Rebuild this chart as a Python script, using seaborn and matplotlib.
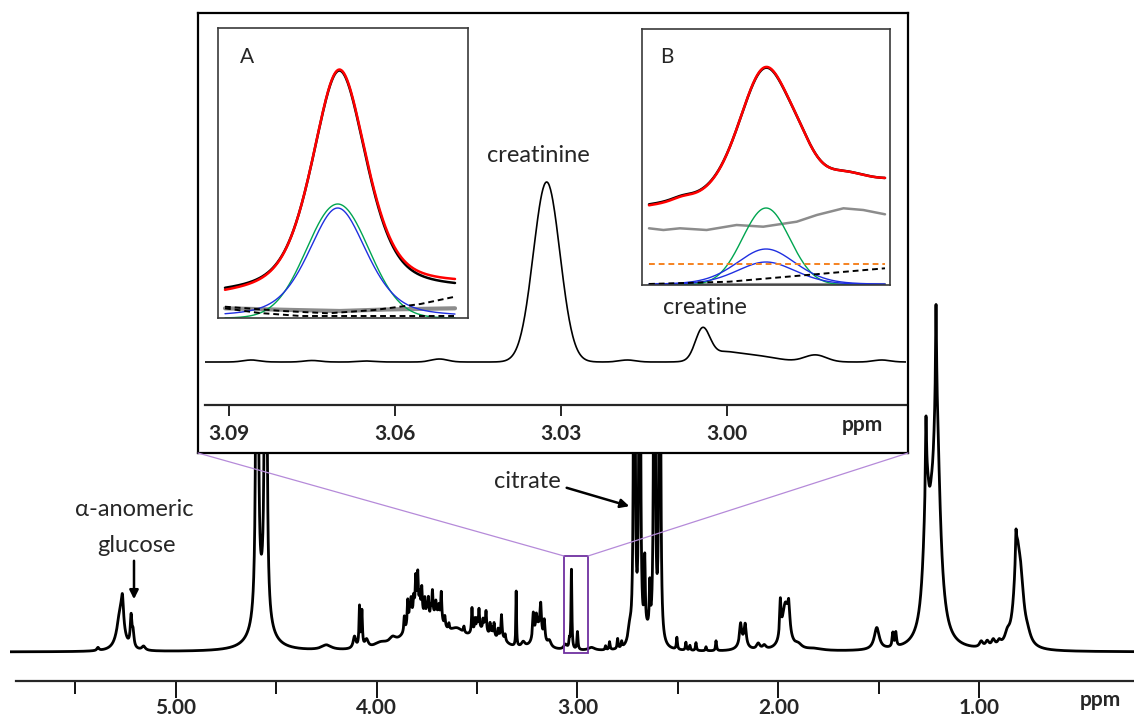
import numpy as np
import matplotlib
matplotlib.use("Agg")
import matplotlib.pyplot as plt
import seaborn as sns
from matplotlib.patches import Rectangle
from matplotlib.lines import Line2D

sns.set_style("ticks")
plt.rcParams['font.family'] = ['Lato', 'DejaVu Sans']

W, H = 1134, 718

# ---------------- main 1H NMR spectrum: peak table ----------------
# (chemical shift ppm, height above baseline, Lorentzian half-width ppm)
main_ppm = [5.387, 5.275, 5.265, 5.222, 5.212, 5.16,
            4.595, 4.552, 4.575, 4.25, 4.11, 4.085, 4.073, 4.05, 3.98, 3.92,
            3.80, 3.70, 3.60, 3.48, 3.38,
            3.862, 3.845, 3.835, 3.828, 3.815, 3.805, 3.795, 3.785, 3.775, 3.76, 3.75, 3.742, 3.73,
            3.722, 3.705, 3.69, 3.678, 3.66, 3.64,
            3.565, 3.525, 3.51, 3.5, 3.49, 3.47, 3.462, 3.455, 3.435, 3.425, 3.415, 3.395, 3.378, 3.36,
            3.305, 3.27,
            3.195, 3.22, 3.205, 3.183, 3.165, 3.14,
            3.03, 3.0, 3.04, 3.06,
            2.93, 2.86, 2.84, 2.80, 2.78, 2.74,
            2.717, 2.69, 2.665, 2.64, 2.617, 2.59, 2.655,
            2.505, 2.46, 2.44, 2.41, 2.36, 2.31,
            2.188, 2.165, 2.178, 2.10, 2.07,
            1.99, 1.965, 1.948, 1.90, 1.82,
            1.51, 1.43, 1.415,
            1.262, 1.265, 1.213, 1.215, 1.238,
            0.99, 0.96, 0.93, 0.90, 0.86,
            0.812, 0.792, 0.817, 0.76]
main_height = [3, 40, 25, 30, 14, 4,
               1500, 1500, 40, 5, 12, 40, 35, 8, 5, 6,
               36, 25, 14, 17, 8,
               15, 25, 12, 18, 15, 32, 35, 15, 25, 18, 12, 20, 10,
               25, 12, 10, 28, 10, 6,
               6, 25, 12, 10, 20, 10, 8, 20, 12, 8, 14, 8, 22, 6,
               55, 5,
               22, 25, 15, 28, 20, 6,
               80, 18, 8, 5,
               3, 4, 8, 10, 6, 15,
               900, 900, 70, 45, 900, 900, 12,
               12, 8, 5, 8, 4, 10,
               20, 20, 8, 6, 4,
               35, 45, 25, 4, 2,
               22, 14, 14,
               130, 70, 225, 100, 25,
               6, 6, 7, 5, 9,
               85, 45, 25, 8]
main_hw = [0.006, 0.02, 0.006, 0.005, 0.005, 0.01,
           0.003, 0.003, 0.045, 0.03, 0.008, 0.003, 0.003, 0.01, 0.04, 0.02,
           0.055, 0.04, 0.05, 0.06, 0.03,
           0.003, 0.003, 0.003, 0.003, 0.003, 0.003, 0.003, 0.003, 0.003, 0.003, 0.003, 0.003, 0.003,
           0.003, 0.003, 0.003, 0.003, 0.003, 0.003,
           0.003, 0.003, 0.003, 0.003, 0.003, 0.003, 0.003, 0.003, 0.003, 0.003, 0.003, 0.003, 0.003, 0.003,
           0.002, 0.01,
           0.025, 0.004, 0.004, 0.004, 0.004, 0.01,
           0.0025, 0.003, 0.003, 0.01,
           0.02, 0.003, 0.003, 0.003, 0.003, 0.01,
           0.0028, 0.0028, 0.003, 0.003, 0.0028, 0.0028, 0.02,
           0.003, 0.003, 0.003, 0.003, 0.003, 0.003,
           0.006, 0.006, 0.025, 0.01, 0.01,
           0.004, 0.02, 0.006, 0.02, 0.05,
           0.015, 0.004, 0.004,
           0.019, 0.003, 0.022, 0.003, 0.012,
           0.01, 0.01, 0.01, 0.01, 0.015,
           0.018, 0.018, 0.003, 0.02]
main_ticks = [5.0, 4.0, 3.0, 2.0, 1.0]
main_ticklabels = ["5.00", "4.00", "3.00", "2.00", "1.00"]
main_minor = [5.5, 4.5, 3.5, 2.5, 1.5]

# ---------------- zoomed spectrum 3.09-2.97 ppm (Gaussian peaks) ----------------
inset_ppm = [3.0326, 3.0044, 3.001, 2.995, 2.984, 3.052, 3.086, 3.075, 3.065, 2.972, 3.018]
inset_height = [180, 30, 8, 6, 7, 3, 2, 1.5, 1, 2, 2]
inset_sigma = [0.0024, 0.0013, 0.003, 0.004, 0.002, 0.0015, 0.0015, 0.0015, 0.0015, 0.0015, 0.0015]
inset_ticks = [3.09, 3.06, 3.03, 3.00]
inset_ticklabels = ["3.09", "3.06", "3.03", "3.00"]

# ---------------- panel A (creatinine fit) ----------------
A_center = 0.497
A_meas_base = [22, 27]
A_fit_base = [20, 31]
A_peak_height = 223
A_peak_fwhm = 0.28
A_green = [0.49, 114, 0.135]          # center, height, sigma
A_blue = [0.49, 110, 0.30, 0.45]      # center, height, fwhm, eta
A_gray_t = [0.0, 0.3, 0.5, 0.7, 1.0]
A_gray_y = [9.7, 8.0, 7.0, 8.5, 9.7]
A_dash1_t = [0.0, 0.25, 0.45, 0.65, 0.85, 1.0]
A_dash1_y = [11.3, 7.0, 4.7, 8.0, 14.0, 21.3]
A_dash2_t = [0.0, 0.15, 0.33, 1.0]
A_dash2_y = [9.7, 5.0, 2.0, 2.0]

# ---------------- panel B (creatine fit) ----------------
B_meas_base = [78, 103]
B_fit_base = [77, 103]
B_comp_c = [0.492, 0.64, 0.83, 0.14]
B_comp_h = [125, 15, 9, 3]
B_comp_w = [0.26, 0.15, 0.2, 0.10]
B_green = [0.496, 77, 0.10]
B_blue1 = [0.496, 36, 0.30, 0.3]
B_blue2 = [0.496, 23, 0.30, 0.3]
B_gray_t = [0, 0.061, 0.131, 0.244, 0.371, 0.484, 0.626, 0.711, 0.824, 0.908, 1.0]
B_gray_y = [56.7, 55, 56.7, 55, 60, 58.3, 63.3, 70, 76.7, 75, 70.7]
B_orange_y = 21
B_dash_t = [0.0, 0.34, 1.0]
B_dash_y = [1.0, 3.3, 16.7]


def lorentz(x, c, h, w):
    x = np.asarray(x)[:, None]
    return (np.asarray(h) / (1 + ((x - np.asarray(c)) / np.asarray(w)) ** 2)).sum(axis=1)


def gauss(x, c, h, s):
    x = np.asarray(x)[:, None]
    return (np.asarray(h) * np.exp(-0.5 * ((x - np.asarray(c)) / np.asarray(s)) ** 2)).sum(axis=1)


def pv(t, c, h, fwhm, eta):
    hw = fwhm / 2
    sig = fwhm / 2.3548
    L = 1 / (1 + ((t - c) / hw) ** 2)
    G = np.exp(-0.5 * ((t - c) / sig) ** 2)
    return h * (eta * L + (1 - eta) * G)


fig = plt.figure(figsize=(W / 100, H / 100), dpi=100)


def px_axes(x0, y0, x1, y1):
    return fig.add_axes([x0 / W, 1 - y1 / H, (x1 - x0) / W, (y1 - y0) / H])


def fx(x):
    return x / W


def fy(y):
    return 1 - y / H


# ---------------- main axes ----------------
ax = px_axes(10, 280, 1134, 681)
xs = np.arange(5.825, 0.229, -0.0004)
ys = lorentz(xs, main_ppm, main_height, main_hw)
sns.lineplot(x=xs, y=ys, ax=ax, color='black', linewidth=2.0)
ax.set_xlim(5.825, 0.2295)
ax.set_ylim(-29, 372)
for s in ['left', 'right', 'top']:
    ax.spines[s].set_visible(False)
ax.spines['bottom'].set_bounds(5.795, 0.2295)
ax.spines['bottom'].set_linewidth(1.6)
ax.set_xticks(main_ticks)
ax.set_xticklabels(main_ticklabels, fontweight='bold', fontsize=15)
ax.set_xticks(main_minor, minor=True)
ax.tick_params(axis='x', which='major', length=12, width=1.3, direction='out', pad=0.5, color='black')
ax.tick_params(axis='x', which='minor', length=9, width=1.3, direction='out', color='black')
ax.set_yticks([])
ax.set_xlabel('')
ax.set_ylabel('')
ax.patch.set_alpha(0)
ax.add_patch(Rectangle((3.0677, -1), 2.948 - 3.0677, 97, fill=False,
                       edgecolor='#7030a0', linewidth=1.3, zorder=5))

fig.text(fx(1100), fy(700), 'ppm', fontweight='bold', fontsize=15, ha='center', va='center')
fig.text(fx(134), fy(510), 'α-anomeric', fontsize=17, ha='center', va='center')
fig.text(fx(136), fy(546), 'glucose', fontsize=17, ha='center', va='center')
fig.text(fx(527), fy(482), 'citrate', fontsize=17, ha='center', va='center')
ax.annotate('', xy=(fx(134), fy(602)), xytext=(fx(134), fy(558)), xycoords='figure fraction',
            textcoords='figure fraction',
            arrowprops=dict(arrowstyle='-|>', color='black', lw=1.8, mutation_scale=13))
ax.annotate('', xy=(fx(632), fy(507)), xytext=(fx(564), fy(487)), xycoords='figure fraction',
            textcoords='figure fraction',
            arrowprops=dict(arrowstyle='-|>', color='black', lw=1.8, mutation_scale=13))

# connector lines
fig.add_artist(Line2D([fx(198), fx(564)], [fy(453), fy(556)], color='#b58ad9', lw=0.9))
fig.add_artist(Line2D([fx(908), fx(588)], [fy(453), fy(556)], color='#b58ad9', lw=0.9))

# ---------------- inset frame ----------------
frame = px_axes(198, 13, 908, 453)
frame.set_xticks([])
frame.set_yticks([])
frame.set_facecolor('white')
for s in frame.spines.values():
    s.set_linewidth(1.6)
    s.set_color('black')

ins = px_axes(205, 13, 906, 405)
xi = np.linspace(3.0944, 2.9676, 1200)
yi = gauss(xi, inset_ppm, inset_height, inset_sigma)
sns.lineplot(x=xi, y=yi, ax=ins, color='black', linewidth=1.2)
ins.set_xlim(3.0944, 2.9676)
ins.set_ylim(-43, 349)
ins.patch.set_alpha(0)
for s in ['left', 'right', 'top']:
    ins.spines[s].set_visible(False)
ins.spines['bottom'].set_linewidth(1.6)
ins.set_xticks(inset_ticks)
ins.set_xticklabels(inset_ticklabels, fontweight='bold', fontsize=15)
ins.tick_params(axis='x', which='major', length=8, width=1.2, direction='out', pad=6, color='black')
ins.set_yticks([])
ins.set_xlabel('')
ins.set_ylabel('')
fig.text(fx(862), fy(425), 'ppm', fontweight='bold', fontsize=15, ha='center', va='center')
fig.text(fx(538), fy(156), 'creatinine', fontsize=17, ha='center', va='center')
fig.text(fx(705), fy(307), 'creatine', fontsize=17, ha='center', va='center')

# ---------------- panel A ----------------
axA = px_axes(218, 28, 468, 318)
t = np.linspace(0, 1, 400)
meas = np.linspace(*A_meas_base, t.size) + pv(t, A_center, A_peak_height, A_peak_fwhm, 0.5)
fit = np.linspace(*A_fit_base, t.size) + pv(t, A_center, A_peak_height, A_peak_fwhm, 0.5)
sns.lineplot(x=A_gray_t, y=A_gray_y, ax=axA, color='#8c8c8c', linewidth=3.0)
sns.lineplot(x=t, y=gauss(t, [A_green[0]], [A_green[1]], [A_green[2]]), ax=axA, color='#00a550', linewidth=1.0)
sns.lineplot(x=t, y=pv(t, *A_blue), ax=axA, color='#1f2fe0', linewidth=1.0)
sns.lineplot(x=A_dash1_t, y=A_dash1_y, ax=axA, color='black', linewidth=1.4, linestyle=(0, (3, 2)))
sns.lineplot(x=A_dash2_t, y=A_dash2_y, ax=axA, color='black', linewidth=1.4, linestyle=(0, (3, 2)))
sns.lineplot(x=t, y=meas, ax=axA, color='black', linewidth=1.8)
sns.lineplot(x=t, y=fit, ax=axA, color='#ff0000', linewidth=1.8)
axA.set_xlim(-0.0304, 1.0565)
axA.set_ylim(0, 290)
axA.set_xticks([])
axA.set_yticks([])
axA.set_xlabel('')
axA.set_ylabel('')
for s in axA.spines.values():
    s.set_color('#3a3a3a')
    s.set_linewidth(1.2)
axA.text(0.115, 0.9, 'A', transform=axA.transAxes, fontsize=15, ha='center', va='center')

# ---------------- panel B ----------------
axB = px_axes(642, 29, 890, 285)
measB = np.linspace(*B_meas_base, t.size) + sum(
    pv(t, c, h, w, 0.3) for c, h, w in zip(B_comp_c, B_comp_h, B_comp_w))
fitB = np.linspace(*B_fit_base, t.size) + sum(
    pv(t, c, h * (1.0 if i else 1.01), w, 0.3) for i, (c, h, w) in enumerate(zip(B_comp_c, B_comp_h, B_comp_w)))
sns.lineplot(x=[0, 1], y=[1.5, 1.5], ax=axB, color='#8c8c8c', linewidth=1.5)
sns.lineplot(x=B_gray_t, y=B_gray_y, ax=axB, color='#8c8c8c', linewidth=1.8)
sns.lineplot(x=t, y=gauss(t, [B_green[0]], [B_green[1]], [B_green[2]]), ax=axB, color='#00a550', linewidth=1.0)
sns.lineplot(x=t, y=pv(t, *B_blue1), ax=axB, color='#1f2fe0', linewidth=1.0)
sns.lineplot(x=t, y=pv(t, *B_blue2), ax=axB, color='#1f2fe0', linewidth=1.0)
sns.lineplot(x=[0, 1], y=[B_orange_y, B_orange_y], ax=axB, color='#f58220', linewidth=1.4, linestyle=(0, (3, 2)))
sns.lineplot(x=B_dash_t, y=B_dash_y, ax=axB, color='black', linewidth=1.4, linestyle=(0, (3, 2)))
sns.lineplot(x=t, y=measB, ax=axB, color='black', linewidth=1.8)
sns.lineplot(x=t, y=fitB, ax=axB, color='#ff0000', linewidth=1.8)
axB.set_xlim(-0.0297, 1.0212)
axB.set_ylim(0, 256)
axB.set_xticks([])
axB.set_yticks([])
axB.set_xlabel('')
axB.set_ylabel('')
for s in axB.spines.values():
    s.set_color('#3a3a3a')
    s.set_linewidth(1.2)
axB.text(0.10, 0.89, 'B', transform=axB.transAxes, fontsize=15, ha='center', va='center')

fig.savefig('out.png', dpi=100)
